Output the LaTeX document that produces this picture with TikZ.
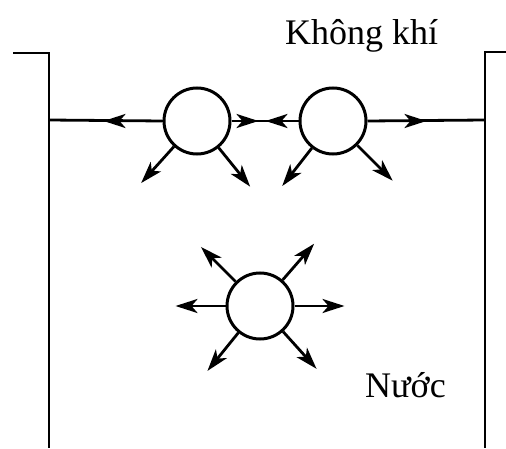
\documentclass[tikz,border=0pt]{standalone}
\usepackage{fontspec}
\setmainfont{Liberation Serif}
\usetikzlibrary{arrows.meta}
\begin{document}
\begin{tikzpicture}[x=1pt,y=1pt,
  wall/.style={line width=2.8pt},
  particle/.style={circle,draw,line width=3pt,minimum size=66pt,inner sep=0pt},
  arr/.style={line width=2.8pt,-{Stealth[length=22pt,width=14pt,inset=6pt]}},
  label/.style={font=\fontsize{36}{40}\selectfont,inner sep=0pt}]
\useasboundingbox (0,0) rectangle (506,448);
% vessel walls
\coordinate (lt) at (13,395);
\coordinate (lc) at (49,395);
\coordinate (lb) at (49,0);
\coordinate (rt) at (506,396);
\coordinate (rc) at (485,396);
\coordinate (rb) at (485,0);
\coordinate (ls) at (49,328);
\coordinate (rs) at (485,328);
\draw[wall] (lt) -- (lc) -- (lb);
\draw[wall] (rt) -- (rc) -- (rb);
% particles
\node[particle] (c1) at (197,327) {};
\node[particle] (c2) at (333,327) {};
\node[particle] (c3) at (260,142) {};
% surface line
\draw[wall] (ls) -- (c1.west);
\draw[wall] (c1.east) -- (c2.west);
\draw[wall] (c2.east) -- (rs);
% forces on surface particles
\draw[arr] (c1.west) -- ++(-59,0);
\draw[arr] (c1.east) -- ++(27,0);
\draw[arr] (c1.228) -- ++(228:49);
\draw[arr] (c1.-51) -- ++(-51:50);
\draw[arr] (c2.west) -- ++(-33,0);
\draw[arr] (c2.east) -- ++(59,0);
\draw[arr] (c2.232) -- ++(232:48);
\draw[arr] (c2.-45) -- ++(-45:50);
% forces on inner particle
\draw[arr] (c3.135) -- ++(135:49);
\draw[arr] (c3.49) -- ++(49:48);
\draw[arr] (c3.west) -- ++(-50,0);
\draw[arr] (c3.east) -- ++(50,0);
\draw[arr] (c3.231) -- ++(231:49);
\draw[arr] (c3.-48) -- ++(-48:50);
% labels
\node[label,anchor=base west] (air) at (285,403) {Không khí};
\node[label,anchor=base west] (water) at (365,51) {Nước};
\end{tikzpicture}
\end{document}
